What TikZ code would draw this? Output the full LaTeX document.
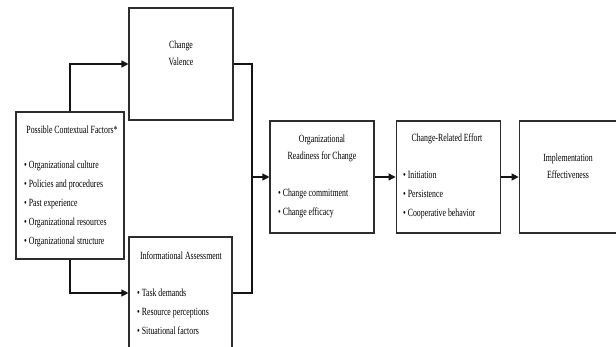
\documentclass[tikz,border=0pt]{standalone}
\usepackage{fontspec}
\setmainfont{Liberation Serif}[FakeStretch=0.71]
\usepackage{tikz}
\usetikzlibrary{
  positioning,
  arrows.meta,
  calc
}
\definecolor{boxborder}{RGB}{45,45,45}
\definecolor{arrowcolor}{RGB}{20,20,20}
\tikzset{
  framebox/.style={
    draw=boxborder, line width=1.1pt, inner sep=0pt,
    minimum width=104pt, minimum height=112pt
  },
  titletext/.style={
    font=\fontsize{11}{17}\selectfont, align=center, inner sep=0pt
  },
  bullettext/.style={
    font=\fontsize{11}{19}\selectfont, align=left, inner sep=0pt, anchor=west
  },
  bigarrow/.style={
    -{Triangle[length=7pt,width=7pt]}, line width=1.1pt, draw=arrowcolor
  },
  plainline/.style={
    line width=1.1pt, draw=arrowcolor
  }
}

\begin{document}
\begin{tikzpicture}[x=1pt, y=-1pt]
    \useasboundingbox[fill=white] (0,0) rectangle (616,347);

    % boxes
    \node[framebox, minimum width=108pt, minimum height=147pt] (cf) at (70,185.5) {};
    \node[framebox] (cv) at (181,64) {};
    \node[framebox, minimum width=103pt] (ia) at (180.5,293) {};
    \node[framebox] (ro) at (322,177) {};
    \node[framebox, right=21pt of ro] (ce) {};
    \node[framebox, right=18pt of ce] (ie) {};

    % texts
    \node[titletext] (cftitle) at (72,130) {Possible Contextual Factors*};
    \node[bullettext] (cflist) at (24,204) {%
      \textbullet\ Organizational culture\\
      \textbullet\ Policies and procedures\\
      \textbullet\ Past experience\\
      \textbullet\ Organizational resources\\
      \textbullet\ Organizational structure};

    \node[titletext] (cvtitle) at (181,53.5) {Change\\Valence};

    \node[titletext] (iatitle) at (181,256) {Informational Assessment};
    \node[bullettext] (ialist) at (137,312) {%
      \textbullet\ Task demands\\
      \textbullet\ Resource perceptions\\
      \textbullet\ Situational factors};

    \node[titletext] (rotitle) at (322,148.5) {Organizational\\Readiness for Change};
    \node[bullettext] (rolist) at (278,203.5) {%
      \textbullet\ Change commitment\\
      \textbullet\ Change efficacy};

    \node[titletext] (cetitle) at (447,139) {Change-Related Effort};
    \node[bullettext] (celist) at (403,195) {%
      \textbullet\ Initiation\\
      \textbullet\ Persistence\\
      \textbullet\ Cooperative behavior};

    \node[titletext] (ietitle) at (568,166) {Implementation\\Effectiveness};

    % connectors
    \coordinate (jn) at (252,177);
    \draw[bigarrow] (cf.north) |- (cv.west);
    \draw[bigarrow] (cf.south) |- (ia.west);
    \draw[plainline] (cv.east) -| (jn);
    \draw[plainline] (ia.east) -| (jn);
    \draw[bigarrow] (jn) -- (ro.west);
    \draw[bigarrow] (ro) -- (ce);
    \draw[bigarrow] (ce) -- (ie);

  \end{tikzpicture}
\end{document}
